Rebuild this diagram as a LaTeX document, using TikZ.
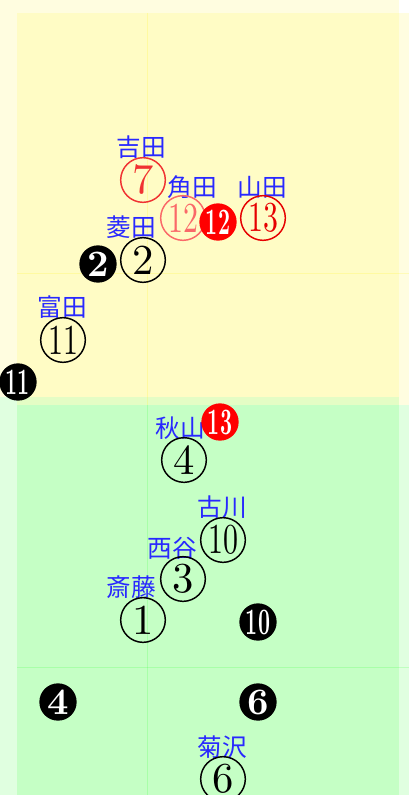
\documentclass[tikz,border=0pt]{standalone}
\usepackage{fontspec}
\usepackage{graphicx}
\newfontfamily\jp{Noto Sans CJK JP}
\newfontfamily\numfont{lmroman10-regular.otf}
\newfontfamily\numbold{lmroman10-bold.otf}
\definecolor{labblue}{RGB}{40,40,255}
\definecolor{redA}{RGB}{240,50,50}
\definecolor{redB}{RGB}{250,105,105}
\definecolor{redC}{RGB}{230,0,0}
\begin{document}
\begin{tikzpicture}[x=0.75pt,y=-0.75pt,
  lab/.style={font=\jp\fontsize{18.5}{19}\selectfont, text=labblue, inner sep=0pt},
  cnum/.style={circle, draw, line width=1.1pt, inner sep=0pt, minimum size=33.5pt, font=\numfont\fontsize{32}{32}\selectfont},
  fnum/.style={circle, fill=black, text=white, inner sep=0pt, minimum size=28pt, font=\numbold\fontsize{28}{28}\selectfont},
  ybox/.style={fill=yellow, fill opacity=0.12},
  gbox/.style={fill=green, fill opacity=0.12},
  yline/.style={draw=yellow, draw opacity=0.18, line width=0.75pt},
  gline/.style={draw=green, draw opacity=0.15, line width=0.75pt},
]
\useasboundingbox (0,0) rectangle (417,795);
% backgrounds
\fill[ybox] (0,0) rectangle (399,397);
\fill[gbox] (0,397) rectangle (399,795);
\fill[ybox] (17,13) rectangle (409,405);
\fill[gbox] (17,405) rectangle (409,795);
\draw[yline] (147,13) -- (147,405);
\draw[yline] (17,273) -- (409,273);
\draw[gline] (147,405) -- (147,795);
\draw[gline] (17,667) -- (409,667);
% labels
\node[lab] (l1) at (141,147) {吉田};
\node[lab] (l2) at (192,187) {角田};
\node[lab] (l3) at (262,187) {山田};
\node[lab] (l4) at (131,227) {菱田};
\node[lab] (l5) at (62,307) {富田};
\node[lab] (l6) at (180,428) {秋山};
\node[lab] (l7) at (222,507) {古川};
\node[lab] (l8) at (172,548) {西谷};
\node[lab] (l9) at (131,587) {斎藤};
\node[lab] (l10) at (222,747) {菊沢};
% outlined numbers
\node[cnum, draw=redA, text=redA] (c7) at (143,180) {7};
\node[cnum, draw=redB, text=redB] (c12) at (183,218) {\scalebox{0.7}[1]{12}};
\node[cnum, draw=redC, text=redC] (c13) at (263,218) {\scalebox{0.7}[1]{13}};
\node[cnum] (c2) at (143,260) {2};
\node[cnum] (c11) at (63,340) {\scalebox{0.7}[1]{11}};
\node[cnum] (c4) at (184,460) {4};
\node[cnum] (c10) at (223,540) {\scalebox{0.7}[1]{10}};
\node[cnum] (c3) at (183,579) {3};
\node[cnum] (c1) at (143,620) {1};
\node[cnum] (c6) at (223,779) {6};
% filled numbers
\node[fnum, fill=red] (f12) at (218,222) {\scalebox{0.56}[1]{12}};
\node[fnum] (f2) at (98,264) {2};
\node[fnum] (f11) at (18,382) {\scalebox{0.56}[1]{11}};
\node[fnum, fill=red] (f13) at (220,422) {\scalebox{0.56}[1]{13}};
\node[fnum] (f10) at (258,622) {\scalebox{0.56}[1]{10}};
\node[fnum] (f4) at (58,702) {4};
\node[fnum] (f6) at (258,702) {6};
\end{tikzpicture}
\end{document}
